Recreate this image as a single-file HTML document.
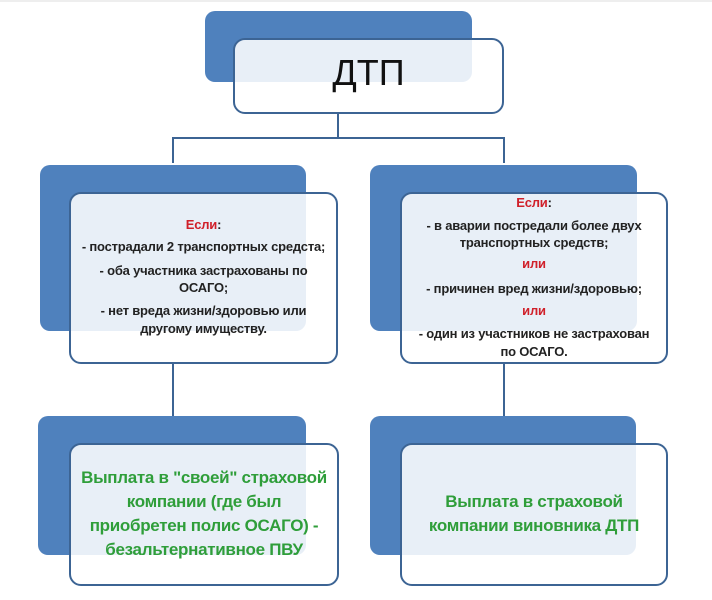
<!DOCTYPE html>
<html><head><meta charset="utf-8"><style>
body{margin:0;width:712px;height:600px;background:#fff;position:relative;overflow:hidden;font-family:"Liberation Sans",sans-serif}
.b{position:absolute;background:#4f81bd;border-radius:10px}
.w{position:absolute;background:rgba(255,255,255,0.87);border:2.5px solid #3c6494;border-radius:12px;box-sizing:border-box}
.l{position:absolute;background:#3c6494}
.t{position:absolute;text-align:center;font-size:13px;font-weight:bold;color:#222;white-space:nowrap;letter-spacing:-0.2px;line-height:14px}
.r{color:#d0202a}
.g{position:absolute;text-align:center;font-size:17px;font-weight:bold;color:#2f9e3a;line-height:24px;white-space:nowrap;letter-spacing:-0.3px}
</style></head><body>
<div style="position:absolute;left:0;top:0;width:712px;height:2px;background:#eee"></div>
<div class="b" style="left:205px;top:11px;width:267px;height:71px"></div>
<div class="w" style="left:233px;top:38px;width:271px;height:76px"></div>
<div style="position:absolute;left:233px;top:52px;width:271px;text-align:center;font-size:36px;color:#111">ДТП</div>
<div class="l" style="left:337px;top:113px;width:2px;height:26px"></div>
<div class="l" style="left:172px;top:137px;width:333px;height:2px"></div>
<div class="l" style="left:172px;top:137px;width:2px;height:26px"></div>
<div class="l" style="left:503px;top:137px;width:2px;height:26px"></div>

<div class="b" style="left:40px;top:165px;width:266px;height:166px"></div>
<div class="w" style="left:69px;top:192px;width:269px;height:172px"></div>
<div class="b" style="left:370px;top:165px;width:267px;height:166px"></div>
<div class="w" style="left:400px;top:192px;width:268px;height:172px"></div>

<div class="t" style="left:69px;width:269px;top:218px"><span class="r">Если</span>:</div>
<div class="t" style="left:69px;width:269px;top:240px">- пострадали 2 транспортных средста;</div>
<div class="t" style="left:69px;width:269px;top:264px">- оба участника застрахованы по</div>
<div class="t" style="left:69px;width:269px;top:281px">ОСАГО;</div>
<div class="t" style="left:69px;width:269px;top:304px">- нет вреда жизни/здоровью или</div>
<div class="t" style="left:69px;width:269px;top:322px">другому имуществу.</div>

<div class="t" style="left:400px;width:268px;top:196px"><span class="r">Если</span>:</div>
<div class="t" style="left:400px;width:268px;top:219px">- в аварии постредали более двух</div>
<div class="t" style="left:400px;width:268px;top:236px">транспортных средств;</div>
<div class="t r" style="left:400px;width:268px;top:257px">или</div>
<div class="t" style="left:400px;width:268px;top:282px">- причинен вред жизни/здоровью;</div>
<div class="t r" style="left:400px;width:268px;top:304px">или</div>
<div class="t" style="left:400px;width:268px;top:327px">- один из участников не застрахован</div>
<div class="t" style="left:400px;width:268px;top:345px">по ОСАГО.</div>

<div class="l" style="left:172px;top:363px;width:2px;height:56px"></div>
<div class="l" style="left:503px;top:363px;width:2px;height:56px"></div>

<div class="b" style="left:38px;top:416px;width:268px;height:139px"></div>
<div class="w" style="left:69px;top:443px;width:270px;height:143px"></div>
<div class="b" style="left:370px;top:416px;width:266px;height:139px"></div>
<div class="w" style="left:400px;top:443px;width:268px;height:143px"></div>

<div class="g" style="left:69px;width:270px;top:466px">Выплата в "своей" страховой<br>компании (где был<br>приобретен полис ОСАГО) -<br>безальтернативное ПВУ</div>
<div class="g" style="left:400px;width:268px;top:490px">Выплата в страховой<br>компании виновника ДТП</div>
</body></html>
